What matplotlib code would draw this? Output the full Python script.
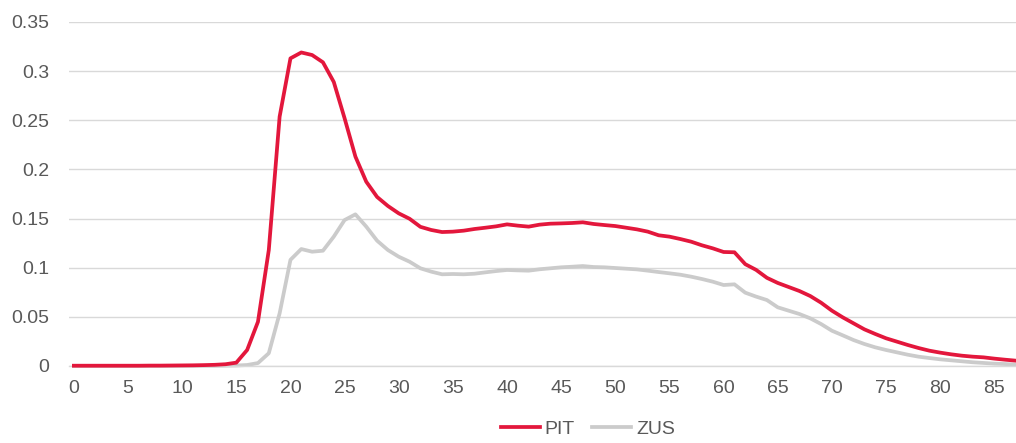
import matplotlib.pyplot as plt
from matplotlib.ticker import MultipleLocator, FuncFormatter

plt.rcParams['font.family'] = ['Liberation Sans', 'DejaVu Sans']

# Age (0..87) and share of population by age for each source
ages = list(range(0, 88))

pit = [
    0.0003, 0.0003, 0.0003, 0.0003, 0.0003, 0.0003, 0.0003, 0.0004, 0.0004, 0.0005,
    0.0006, 0.0007, 0.0009, 0.0012, 0.0018, 0.0034, 0.0163, 0.045, 0.118, 0.2537,
    0.313, 0.319, 0.3164, 0.309, 0.289, 0.252, 0.213, 0.1875, 0.172, 0.1628,
    0.1553, 0.1498, 0.1416, 0.1384, 0.1363, 0.1367, 0.1377, 0.1394, 0.1407, 0.1421,
    0.1441, 0.1428, 0.1418, 0.1438, 0.1448, 0.1451, 0.1455, 0.1462, 0.1445, 0.1434,
    0.1424, 0.1407, 0.139, 0.1367, 0.133, 0.1316, 0.1292, 0.1265, 0.1228, 0.1197,
    0.116, 0.1157, 0.1036, 0.0978, 0.0897, 0.0845, 0.0804, 0.0763, 0.0712, 0.0644,
    0.0563, 0.0495, 0.0434, 0.0373, 0.0326, 0.0282, 0.0248, 0.0214, 0.0183, 0.0156,
    0.0136, 0.0119, 0.0105, 0.0095, 0.0088, 0.0075, 0.0064, 0.0054,
]

zus = [
    0.0001, 0.0001, 0.0001, 0.0001, 0.0001, 0.0001, 0.0001, 0.0001, 0.0001, 0.0001,
    0.0001, 0.0001, 0.0002, 0.0002, 0.0003, 0.0005, 0.001, 0.003, 0.013, 0.0536,
    0.108, 0.119, 0.1163, 0.1173, 0.1316, 0.1485, 0.1543, 0.1418, 0.1275, 0.118,
    0.1112, 0.1061, 0.0994, 0.096, 0.0933, 0.0936, 0.0933, 0.0939, 0.0953, 0.0966,
    0.0977, 0.0973, 0.097, 0.0984, 0.0994, 0.1004, 0.101, 0.1017, 0.1007, 0.1004,
    0.0997, 0.099, 0.0983, 0.097, 0.0956, 0.0943, 0.0929, 0.0909, 0.0885, 0.0858,
    0.0824, 0.0831, 0.0746, 0.0706, 0.0671, 0.0597, 0.0563, 0.0529, 0.0485, 0.0427,
    0.0359, 0.0312, 0.0264, 0.0224, 0.019, 0.0163, 0.0139, 0.0115, 0.0095, 0.0081,
    0.0068, 0.0058, 0.0048, 0.0038, 0.0031, 0.0024, 0.002, 0.0013,
]

RED = '#E3173C'
GREY = '#CBCBCB'
TEXT = '#595959'

fig = plt.figure(figsize=(10.16, 4.43), dpi=100)
ax = fig.add_axes([69 / 1016, 1 - 366 / 443, 947 / 1016, 344 / 443])

ax.plot(ages, pit, color=RED, linewidth=2.7, label='PIT', zorder=3,
        solid_joinstyle='round', clip_on=False)
ax.plot(ages, zus, color=GREY, linewidth=2.7, label='ZUS', zorder=2,
        solid_joinstyle='round', clip_on=False)

ax.set_xlim(-0.45, 87)
ax.set_ylim(0, 0.35)
ax.xaxis.set_major_locator(MultipleLocator(5))
ax.yaxis.set_major_locator(MultipleLocator(0.05))
ax.yaxis.set_major_formatter(FuncFormatter(lambda v, p: '0' if v == 0 else f'{v:.2f}'.rstrip('0')))

ax.grid(axis='y', color='#D9D9D9', linewidth=1.0)
ax.set_axisbelow(True)
for side in ['top', 'right', 'left']:
    ax.spines[side].set_visible(False)
ax.spines['bottom'].set_color('#D9D9D9')
ax.spines['bottom'].set_linewidth(1.0)

ax.tick_params(axis='both', length=0, labelsize=14, labelcolor=TEXT)
ax.tick_params(axis='x', pad=10)
ax.tick_params(axis='y', pad=14)

fig.legend(loc='center', bbox_to_anchor=(588 / 1016, 1 - 429 / 443), ncol=2,
           frameon=False, fontsize=14, labelcolor=TEXT, handlelength=2.0,
           handletextpad=0.25, columnspacing=0.9)

plt.savefig('out.png', dpi=100)
